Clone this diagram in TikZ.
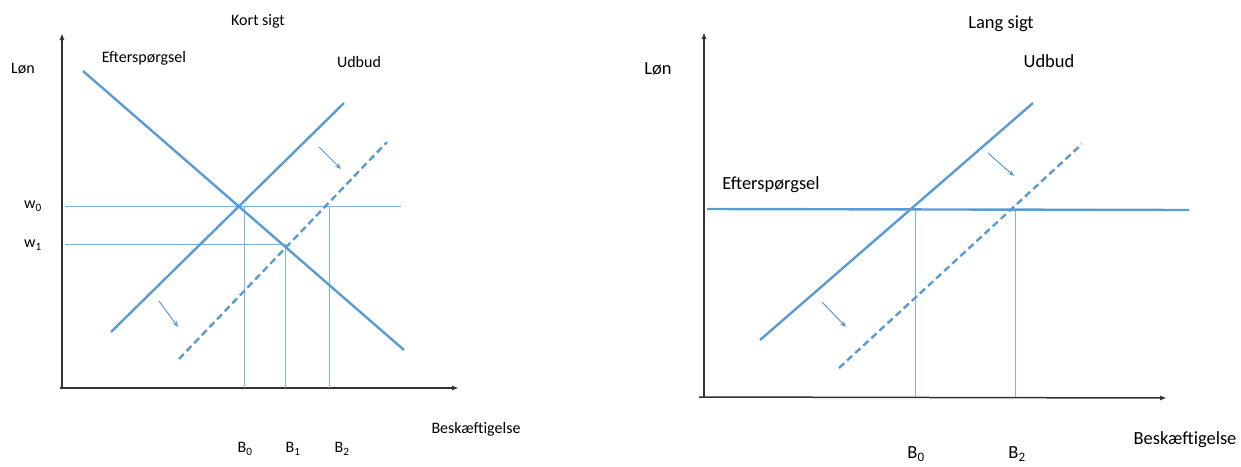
\documentclass[tikz,border=0pt]{standalone}
\usepackage{fontspec}
\setmainfont{Carlito}
\usetikzlibrary{arrows.meta}
\definecolor{curve}{HTML}{5B9BD5}
\definecolor{guidecol}{HTML}{7FB2E0}
\tikzset{
  axis/.style={line width=1.5pt, black!80, -{Latex[length=7pt,width=5pt]}},
  curveline/.style={line width=2.4pt, curve},
  dashline/.style={line width=2.4pt, curve, dash pattern=on 7pt off 4pt},
  guide/.style={line width=1pt, guidecol},
  shiftarrow/.style={line width=1pt, curve, -{Stealth[length=6pt,width=5pt]}},
  lbl/.style={inner sep=0pt, font=\fontsize{16}{18}\selectfont},
  lblR/.style={inner sep=0pt, font=\fontsize{18.5}{21}\selectfont},
}
\begin{document}
\begin{tikzpicture}[x=1pt,y=-1pt]
\useasboundingbox (0,0) rectangle (1241,466);
% ---------- Left panel: Kort sigt ----------
\coordinate (LO) at (62,388);
\coordinate (LYtop) at (62,33);
\coordinate (LXend) at (459,388);
\coordinate (LOx) at (60,388);
\draw[axis] (LO) -- (LYtop);
\draw[axis] (LOx) -- (LXend);
\coordinate (Dl1) at (83,71);   \coordinate (Dl2) at (404,350);
\coordinate (Sl1) at (111,332); \coordinate (Sl2) at (344,103);
\coordinate (Tl1) at (179,359); \coordinate (Tl2) at (387,142);
\coordinate (W0a) at (65,206);  \coordinate (W0b) at (401,206);
\coordinate (W1a) at (65,244);  \coordinate (W1b) at (286,244);
\coordinate (B0t) at (244,206); \coordinate (B0b) at (244,388);
\coordinate (B1t) at (285,244); \coordinate (B1b) at (285,388);
\coordinate (B2t) at (329,206); \coordinate (B2b) at (329,388);
\draw[guide] (W0a) -- (W0b);
\draw[guide] (W1a) -- (W1b);
\draw[guide] (B0t) -- (B0b);
\draw[guide] (B1t) -- (B1b);
\draw[guide] (B2t) -- (B2b);
\draw[curveline] (Dl1) -- (Dl2);
\draw[curveline] (Sl1) -- (Sl2);
\draw[dashline] (Tl1) -- (Tl2);
\coordinate (A1s) at (159,301); \coordinate (A1e) at (178,327);
\coordinate (A2s) at (319,147); \coordinate (A2e) at (341,169);
\draw[shiftarrow] (A1s) -- (A1e);
\draw[shiftarrow] (A2s) -- (A2e);
\node[lbl] (kort) at (258,21) {Kort sigt};
\node[lbl] (lonL) at (23,69) {Løn};
\node[lbl] (efL) at (144,58) {Efterspørgsel};
\node[lbl] (udL) at (359,62) {Udbud};
\node[lbl] (w0) at (33,206) {w\textsubscript{0}};
\node[lbl] (w1) at (33,245) {w\textsubscript{1}};
\node[lbl] (b0L) at (245,449) {B\textsubscript{0}};
\node[lbl] (b1L) at (293,449) {B\textsubscript{1}};
\node[lbl] (b2L) at (342,449) {B\textsubscript{2}};
\node[lbl] (beskL) at (476,429) {Beskæftigelse};
% ---------- Right panel: Lang sigt ----------
\coordinate (RO) at (704,397);
\coordinate (RYtop) at (704,32);
\coordinate (ROx) at (699,397);
\coordinate (RXend) at (1167,398);
\draw[axis] (RO) -- (RYtop);
\draw[axis] (ROx) -- (RXend);
\coordinate (Rb0t) at (915,209); \coordinate (Rb0b) at (915,397);
\coordinate (Rb2t) at (1015,209); \coordinate (Rb2b) at (1015,397);
\draw[guide] (Rb0t) -- (Rb0b);
\draw[guide] (Rb2t) -- (Rb2b);
\coordinate (Dr1) at (707,209); \coordinate (Dr2) at (1189,210);
\coordinate (Sr1) at (760,340); \coordinate (Sr2) at (1033,103);
\coordinate (Tr1) at (839,368); \coordinate (Tr2) at (1082,144);
\draw[curveline] (Dr1) -- (Dr2);
\draw[curveline] (Sr1) -- (Sr2);
\draw[dashline] (Tr1) -- (Tr2);
\coordinate (A3s) at (822,302); \coordinate (A3e) at (846,327);
\coordinate (A4s) at (988,153); \coordinate (A4e) at (1014,176);
\draw[shiftarrow] (A3s) -- (A3e);
\draw[shiftarrow] (A4s) -- (A4e);
\node[lblR] (lang) at (1001,24) {Lang sigt};
\node[lblR] (lonR) at (658,69) {Løn};
\node[lblR] (efR) at (771,185) {Efterspørgsel};
\node[lblR] (udR) at (1049,61) {Udbud};
\node[lblR] (b0R) at (916,454) {B\textsubscript{0}};
\node[lblR] (b2R) at (1017,454) {B\textsubscript{2}};
\node[lblR] (beskR) at (1185,440) {Beskæftigelse};
\end{tikzpicture}
\end{document}
